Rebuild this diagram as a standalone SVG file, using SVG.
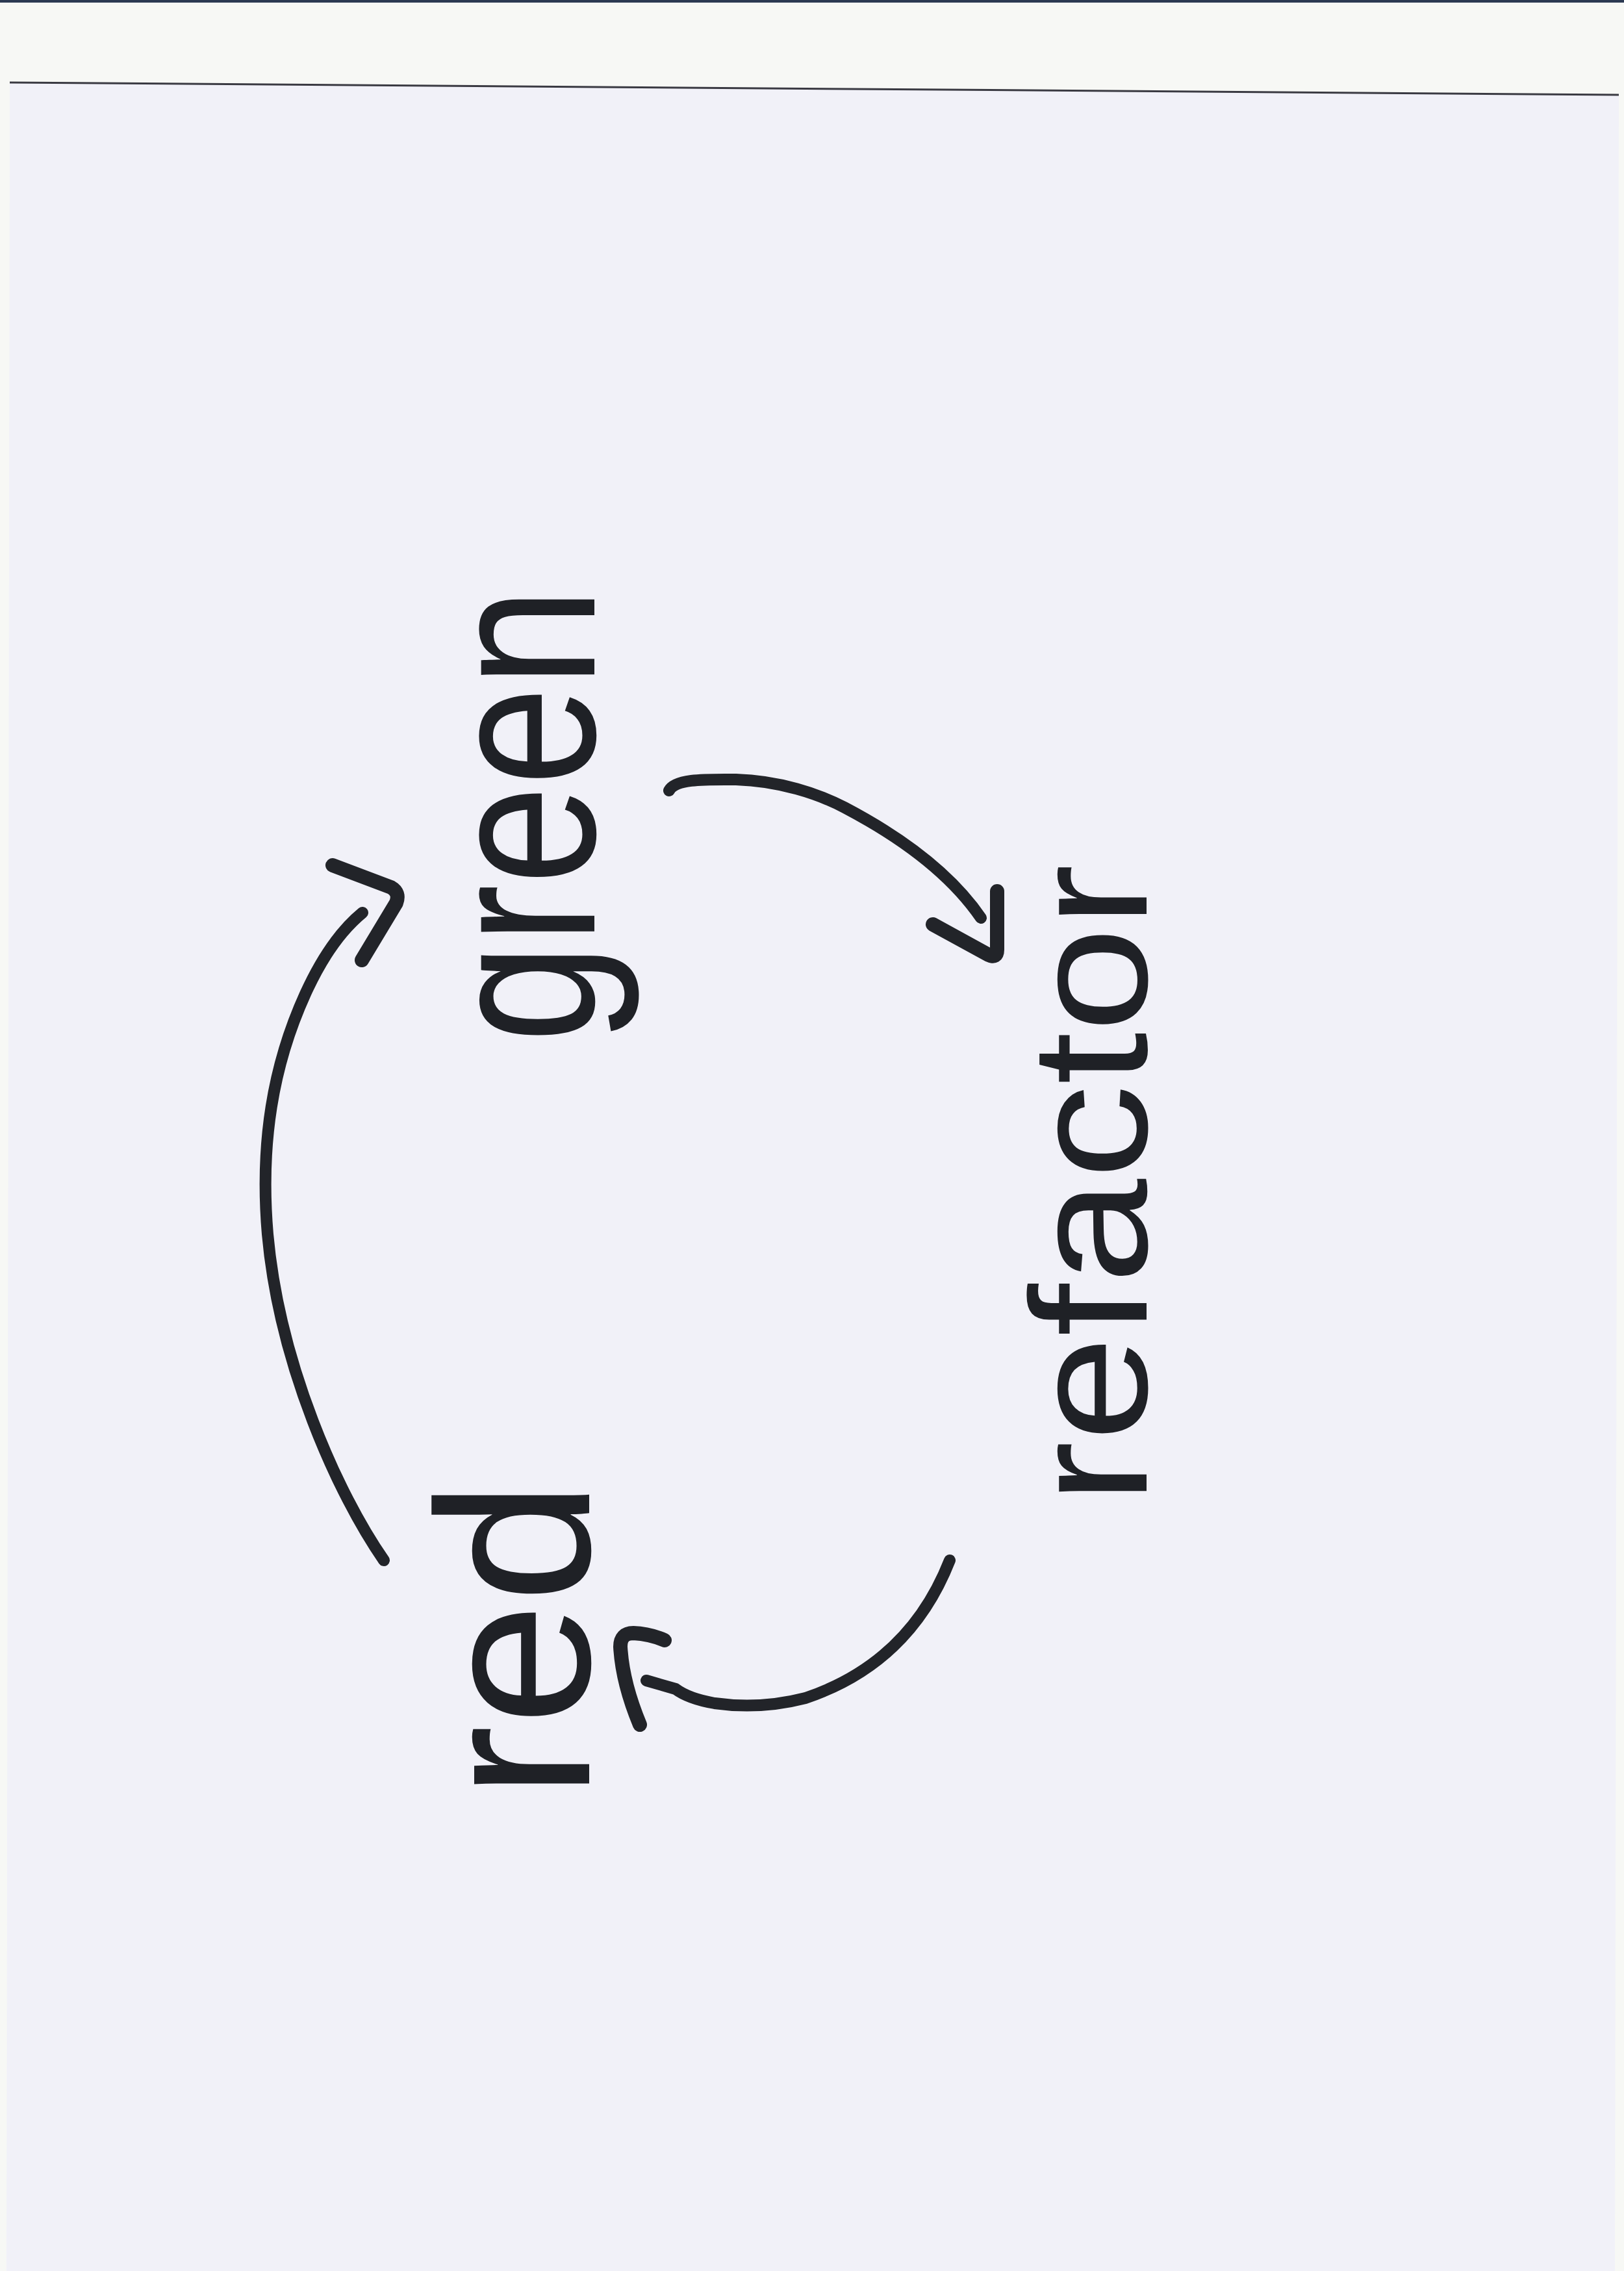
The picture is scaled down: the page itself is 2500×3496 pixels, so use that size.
<svg xmlns="http://www.w3.org/2000/svg" width="2500" height="3496" viewBox="0 0 2500 3496">
  <style>
    .ink { fill: #1f2126; font-family: "Liberation Sans", "DejaVu Sans", sans-serif; font-weight: 400; }
    .wire { fill: none; stroke: #222429; stroke-linecap: round; stroke-linejoin: round; }
    .shaft { stroke-width: 18; }
    .head { stroke-width: 22; }
  </style>
  <!-- scanner background and sheet -->
  <rect x="0" y="0" width="2500" height="3496" fill="#f7f8f5"/>
  <rect x="0" y="0" width="2500" height="4" fill="#2c3a52"/>
  <polygon points="15,127 2492,146 2486,3496 10,3496" fill="#f1f1f8"/>
  <line x1="15" y1="127" x2="2492" y2="146" stroke="#3a3a42" stroke-width="3"/>

  <g id="node-green">
    <text class="ink" transform="translate(915,1255) rotate(-90)" x="0" y="0" font-size="330" text-anchor="middle" textLength="700" lengthAdjust="spacingAndGlyphs">green</text>
  </g>
  <g id="node-refactor">
    <text class="ink" transform="translate(1765,1823) rotate(-90)" x="0" y="0" font-size="255" text-anchor="middle" textLength="985" lengthAdjust="spacingAndGlyphs">refactor</text>
  </g>
  <g id="node-red">
    <text class="ink" transform="translate(907,2524) rotate(-90)" x="0" y="0" font-size="335" text-anchor="middle" textLength="490" lengthAdjust="spacingAndGlyphs">red</text>
  </g>

  <g id="connectors">
    <!-- red -> green -->
    <path class="wire shaft" d="M591,2402 C520,2300 430,2100 412,1900 C400,1760 420,1640 470,1530 C495,1475 525,1432 558,1405"/>
    <path class="wire head" d="M512,1332 L602,1366 Q616,1374 610,1390 L557,1478"/>
    <!-- green -> refactor -->
    <path class="wire shaft" d="M1030,1217 C1040,1198 1090,1200 1133,1200 C1200,1202 1260,1222 1300,1243 C1380,1285 1460,1340 1510,1413"/>
    <path class="wire head" d="M1436,1423 L1522,1470 Q1535,1476 1535,1462 L1535,1372"/>
    <!-- refactor -> red -->
    <path class="wire shaft" d="M1462,2402 Q1400,2560 1240,2614 Q1170,2632 1100,2622 Q1060,2615 1040,2600 L995,2587"/>
    <path class="wire head" d="M1023,2525 Q1000,2515 975,2514 Q955,2514 955,2535 Q958,2590 985,2655"/>
  </g>
</svg>
